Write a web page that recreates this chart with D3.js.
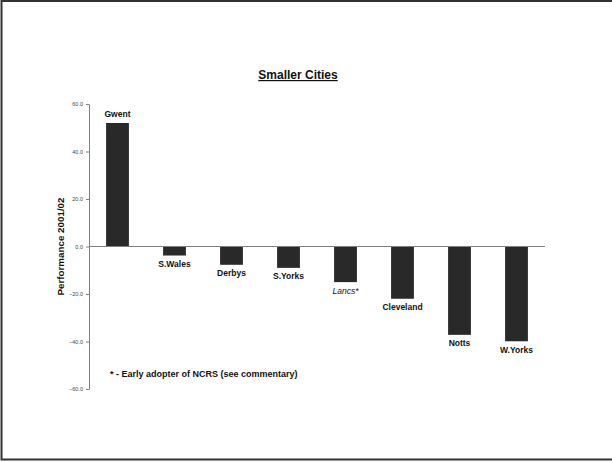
<!DOCTYPE html>
<html><head><meta charset="utf-8">
<script src="https://cdn.jsdelivr.net/npm/d3@7"></script>
<style>body{margin:0;background:#fff}svg{display:block}text{font-family:"Liberation Sans",Arial,sans-serif}</style>
</head><body>
<script>
const categories = ["Gwent","S.Wales","Derbys","S.Yorks","Lancs*","Cleveland","Notts","W.Yorks"];
const values = [52.0,-3.8,-7.7,-9.0,-15.0,-22.0,-37.2,-39.9];
const italicCats = ["Lancs*"];
const tickValues = [60,40,20,0,-20,-40,-60];
const title = "Smaller Cities";
const yTitle = "Performance 2001/02";
const footnote = "* - Early adopter of NCRS (see commentary)";

const W = 612, H = 462;
const svg = d3.select("body").append("svg").attr("width", W).attr("height", H);
svg.append("rect").attr("x",1.5).attr("y",1).attr("width",W+4).attr("height",458.5)
  .attr("fill","none").attr("stroke","#333").attr("stroke-width",2);

const x0 = 89, x1 = 545;
const x = d3.scaleBand().domain(categories).range([x0, x1]).paddingInner(0.6).paddingOuter(0.3);
const y = d3.scaleLinear().domain([-60, 60]).range([389, 104]);

// y axis
const ax = svg.append("g").attr("transform", `translate(${x0},0)`)
  .call(d3.axisLeft(y).tickValues(tickValues).tickFormat(d3.format(".1f")).tickSize(3).tickSizeOuter(0));
ax.select(".domain").attr("stroke","#808080");
ax.selectAll(".tick line").attr("stroke","#808080");
ax.selectAll(".tick text").attr("font-size",5.5).attr("fill","#444").attr("x",-6);

// bars
svg.selectAll("rect.bar").data(categories).enter().append("rect").attr("class","bar")
  .attr("x", d => x(d)).attr("width", x.bandwidth())
  .attr("y", (d,i) => y(Math.max(0, values[i])))
  .attr("height", (d,i) => Math.abs(y(values[i]) - y(0)))
  .attr("fill","#292929");

// zero line
svg.append("line").attr("x1",x0).attr("x2",x1).attr("y1",y(0)).attr("y2",y(0))
  .attr("stroke","#808080").attr("stroke-width",1);

// labels
svg.selectAll("text.lbl").data(categories).enter().append("text").attr("class","lbl")
  .attr("x", d => x(d) + x.bandwidth()/2)
  .attr("y", (d,i) => values[i] >= 0 ? y(values[i]) - 6.5 : y(values[i]) + 11.5)
  .attr("text-anchor","middle").attr("font-size",8.5)
  .attr("font-style", d => italicCats.includes(d) ? "italic" : "normal")
  .attr("font-weight", d => italicCats.includes(d) ? "normal" : "bold")
  .attr("fill","#111").text(d => d);

// title
svg.append("text").attr("x",298).attr("y",79).attr("text-anchor","middle")
  .attr("font-size",12).attr("font-weight","bold").attr("text-decoration","underline")
  .attr("fill","#111").text(title);

// y title
svg.append("text").attr("transform",`translate(64,${y(0)}) rotate(-90)`).attr("text-anchor","middle")
  .attr("font-size",9.8).attr("font-weight","bold").attr("fill","#111").text(yTitle);

// footnote
svg.append("text").attr("x",110).attr("y",377).attr("font-size",9).attr("font-weight","bold")
  .attr("fill","#111").text(footnote);
</script>
</body></html>
